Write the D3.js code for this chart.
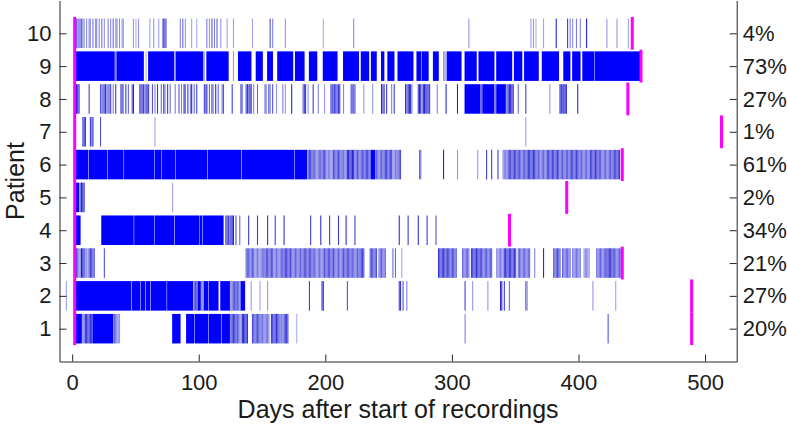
<!DOCTYPE html>
<html>
<head>
<meta charset="utf-8">
<script src="https://cdn.jsdelivr.net/npm/d3@7"></script>
<style>
  body { margin: 0; background: #fff; }
  text { font-family: "Liberation Sans", Arial, Helvetica, sans-serif; }
</style>
</head>
<body>
<div id="chart"></div>
<script>
var width = 787;
var height = 429;

// patients 1..10, percentage of days recorded (right side)
var patients = d3.range(1, 11);
var pctLabels = ['20%', '27%', '21%', '34%', '2%', '61%', '1%', '27%', '73%', '4%'];
var xTicks = [0, 100, 200, 300, 400, 500];

// start of recordings (all patients) and end day for each patient
var startDay = 2;
var endDays = [489.4, 489.4, 434.6, 345.5, 390.7, 434.6, 513, 439, 449.4, 442.5];

// recorded days: [first day, last day, fraction of day recorded]
var rec1 = [[3,7,1],[8,9,.6],[10,15,.85],[16,32,1],[33,35,.6],[36,37,.4],
  [79,85,1],[90,96,1],[97,107,1],[108,117,1],[118,124,1],[125,130,.8],[131,133,.5],[134,138,.9],
  [142,148,.7],[149,155,.55],[157,163,.8],[164,166,.5],[167,170,.8],[177,177,.3],[310,310,.5],[423,423,.7]];

var rec2 = [[-5,-5,.35],[3,46,1],[47,53,1],[54,57,1],[58,61,1],[62,74,1],[75,95,1],[96,98,.7],[99,101,1],
  [102,103,.6],[104,107,1],[108,115,1],[117,124,1],[125,127,.6],[128,130,.8],[131,132,.5],[133,136,1],
  [141,141,.4],[148,148,.35],[154,154,.4],[187,187,.8],[197,198,.85],[217,217,.7],
  [258,259,.8],[261,261,.7],[264,264,.5],[310,310,.8],[316,316,.4],[328,328,.4],[338,339,.85],[341,341,.8],
  [345,345,.6],[358,358,.7],[359,359,.5],[411,411,.4],[429,429,.35]];

var rec3 = [[3,4,.7],[5,6,.5],[7,9,.9],[10,12,.4],[13,17,.75],[25,25,.7],
  [137,143,.65],[144,150,.5],[151,158,.7],[159,165,.55],[166,172,.75],[173,181,.6],[182,190,.7],[191,198,.55],
  [199,206,.7],[207,213,.6],[214,220,.7],[221,226,.6],[227,230,.75],[235,240,.7],[242,247,.6],
  [253,253,.6],[255,255,.6],[260,260,.35],[289,296,.8],[297,303,.7],[308,313,.6],[315,322,.8],[323,331,.65],
  [335,340,.5],[341,350,.8],[352,361,.6],[365,365,.5],[372,372,.9],[380,385,.7],[387,393,.6],[395,401,.55],
  [404,408,.45],[414,421,.6],[422,427,.8],[428,433,.6]];

var rec4 = [[3,6,1],[23,48,1],[49,64,1],[65,80,1],[81,100,1],[101,102,1],[103,119,1],[121,123,.8],[124,124,.5],
  [125,127,.9],[129,129,.7],[132,132,.6],[139,139,.8],[146,146,.8],[154,154,.85],[160,160,.8],[167,167,.85],
  [188,188,.8],[196,196,.85],[203,203,.8],[210,210,.8],[216,216,.85],[223,223,.8],
  [258,258,.85],[265,265,.8],[273,273,.85],[280,280,.8],[287,287,.7]];

var rec5 = [[3,5,1],[6,6,.6],[7,9,.9],[79,79,.35]];

var rec6 = [[3,12,1],[13,27,1],[28,40,1],[41,64,1],[65,70,1],[71,81,1],[82,106,1],[107,133,1],[134,175,1],[176,185,1],
  [186,190,.75],[191,195,.55],[196,200,.7],[201,205,.5],[206,212,.7],[213,216,.55],[217,222,.9],[223,229,.65],
  [230,235,.75],[236,239,1],[240,245,.6],[246,252,.75],[253,256,.5],[257,259,.7],
  [274,275,.6],[293,293,.9],[304,304,.4],[320,320,.4],[327,327,.8],[331,331,.8],[336,336,.8],
  [340,343,.5],[344,352,.75],[353,358,.65],[359,366,.8],[367,374,.6],[375,384,.75],[385,392,.65],
  [393,400,.75],[401,408,.6],[409,416,.75],[417,424,.6],[425,428,.7],[429,432,.8]];

var rec7 = [[8,8,.7],[9,10,.9],[14,14,.8],[15,15,.5],[16,16,.9],[22,22,.7],[65,65,.35],[358,358,.35]];

var rec8 = [[3,5,.9],[13,13,.8],[22,22,.7],[23,23,.5],[24,24,.8],[25,25,.6],[26,26,.9],[27,27,.5],[28,28,.7],
  [29,29,.4],[30,30,.8],[32,32,.5],[34,34,.8],[38,38,.6],[39,39,.9],[40,40,.5],[42,42,.8],[44,44,.6],
  [47,47,.7],[48,48,.9],[53,53,.7],[54,54,.9],[55,55,.6],[56,56,.8],[57,57,.5],[58,58,.9],[59,59,.6],[60,60,.8],
  [63,63,.7],[65,65,.5],[67,67,.8],[70,70,.6],[72,72,.9],[73,73,.5],[75,75,.8],[77,77,.6],
  [81,81,.5],[84,84,.7],[86,86,.5],[88,88,.9],[89,89,.6],[91,91,.8],[93,93,.5],[94,94,.9],[96,96,.6],[98,98,.8],
  [104,104,.8],[105,105,.5],[106,106,.9],[108,108,.6],[110,110,.8],[111,111,.5],[113,113,.9],[115,115,.6],
  [118,118,.5],[119,119,.8],[126,126,.8],[133,133,.9],[134,134,.5],[137,137,.7],[138,138,.9],[139,139,.5],
  [140,141,.9],[143,143,.5],[146,146,.6],[152,152,.7],[153,153,.4],[155,155,.8],[156,156,.5],[158,158,.7],
  [161,161,.4],[166,166,.5],[168,168,.4],[173,173,.9],[182,182,.6],[183,184,.8],[186,186,.4],[190,190,.8],
  [194,194,.5],[199,199,.4],[204,204,.7],[205,205,.9],[206,206,.5],[207,208,.9],[209,209,.6],[210,211,.8],
  [214,214,.5],[220,220,.8],[221,221,.5],[222,223,.7],[230,230,.4],[237,237,.4],[244,244,.9],[245,245,.6],
  [246,246,.9],[248,248,.8],[252,252,.5],[254,254,.8],[263,263,.9],[264,264,.6],[265,267,.9],[268,268,.5],
  [273,273,.8],[274,275,.9],[276,276,.5],[277,280,.9],[281,281,.6],[282,282,.8],[288,288,.5],[295,295,.9],
  [304,304,.9],[310,322,1],[323,323,.6],[324,333,1],[334,334,.5],[335,342,1],[343,343,.6],[344,348,.9],
  [352,352,.6],[358,358,.8],[377,377,.4],[385,386,.9],[387,387,.6],[388,390,.9],[399,399,.9]];

var rec9 = [[3,33,1],[34,34,.6],[35,56,1],[58,58,.3],[60,80,1],[81,81,.6],[82,103,1],[104,104,.4],[106,123,1],
  [127,127,.4],[131,141,1],[145,150,1],[154,158,1],[162,174,1],[176,183,1],[187,193,1],[198,209,1],[214,226,1],
  [228,234,1],[236,240,1],[244,246,1],[249,254,1],[257,269,1],[272,275,1],[276,281,1],[285,289,1],
  [293,295,.4],[296,307,1],[310,319,1],[321,333,1],[335,347,1],[349,355,1],[357,368,1],[371,384,1],
  [388,393,1],[395,401,1],[403,412,1],[413,448,1]];

var rec10 = [[3,3,.6],[4,4,.45],[5,5,.7],[6,6,.5],[7,7,.6],[8,9,.45],[11,11,.45],[13,13,.5],[14,14,.4],
  [16,16,.55],[18,18,.4],[19,19,.5],[21,21,.45],[23,23,.55],[25,25,.4],[28,28,.5],[30,30,.45],[32,32,.6],
  [34,34,.4],[35,35,.5],[37,37,.45],[39,40,.4],[48,48,.4],[50,50,.3],[52,52,.4],[61,61,.35],[64,64,.4],
  [68,68,.35],[71,71,.4],[72,73,.85],[74,74,.4],[85,85,.5],[87,87,.6],[89,89,.4],[94,94,.35],[98,98,.3],
  [106,106,.5],[108,108,.4],[110,110,.7],[112,112,.5],[114,114,.6],[117,117,.4],[122,122,.35],[127,127,.35],
  [142,142,.35],[156,156,.7],[158,158,.5],[168,168,.4],[198,198,.3],[222,222,.45],[313,313,.4],
  [362,362,.35],[364,364,.4],[366,366,.3],[372,372,.35],[382,382,.9],[391,391,.8],[393,393,.5],[395,395,.45],
  [398,398,.5],[401,401,.5],[406,406,.9],[422,422,.4],[430,430,.4],[439,439,.35]];

var recordings = [rec1, rec2, rec3, rec4, rec5, rec6, rec7, rec8, rec9, rec10];

var svg = d3.select('#chart')
  .append('svg')
  .attr('width', width)
  .attr('height', height)
  .style('background', '#fff')

// scales
var x = d3.scaleLinear()
  .domain([-10, 525])
  .range([59.5, 736.7])

var y = d3.scaleLinear()
  .domain([0, 11])
  .range([361.5, 0.5])

// partial days: pale blue -> dark blue, full days pure blue
var partColor = d3.scaleLinear()
  .domain([0.3, 0.95])
  .range(['#ababec', '#1414d2'])
  .clamp(true)

var blue = '#0000ff'
var magenta = '#ff00ff'
var halfBand = 0.45

// full days are drawn as one block, partial days one bar per day (striped look)
function toBars(p) {
  var out = []
  recordings[p - 1].forEach(function (r) {
    if (r[2] >= 1) {
      out.push({ p: p, s: r[0], e: r[1], v: 1, gap: 0.45 })
    } else {
      d3.range(r[0], r[1] + 1).forEach(function (d) {
        out.push({ p: p, s: d, e: d, v: r[2], gap: 0.2 })
      })
    }
  })
  return out
}

/*
 * recorded days per patient
 */
var rows = svg.append('g')
  .selectAll('g')
  .data(patients)
  .enter()
  .append('g')

rows.selectAll('rect')
  .data(toBars)
  .enter()
  .append('rect')
  .attr('x', function (d) { return x(d.s) })
  .attr('width', function (d) { return Math.max(x(d.e + 1) - x(d.s) - d.gap, 0.9) })
  .attr('y', function (d) { return y(d.p + halfBand) })
  .attr('height', function (d) { return y(d.p - halfBand) - y(d.p + halfBand) })
  .style('fill', function (d) { return d.v >= 1 ? blue : partColor(d.v) })

// start line (all patients)
svg.append('rect')
  .attr('x', x(startDay) - 1.5)
  .attr('width', 3)
  .attr('y', y(10.5))
  .attr('height', y(0.5) - y(10.5))
  .style('fill', magenta)

// end line for each patient
svg.append('g')
  .selectAll('rect')
  .data(patients)
  .enter()
  .append('rect')
  .attr('x', function (p) { return x(endDays[p - 1]) - 1.5 })
  .attr('width', 3)
  .attr('y', function (p) { return y(p + 0.5) })
  .attr('height', function (p) { return y(p - 0.5) - y(p + 0.5) })
  .style('fill', magenta)

/*
 * axes
 */
function styleAxis(g) {
  g.selectAll('.domain').attr('stroke', '#262626')
  g.selectAll('.tick line').attr('stroke', '#262626')
  g.selectAll('.tick text')
    .attr('fill', '#1a1a1a')
    .style('font-size', '22px')
    .style('font-family', '"Liberation Sans", Arial, sans-serif')
}

svg.append('g')
  .attr('transform', 'translate(0,' + y(0) + ')')
  .call(d3.axisBottom(x).tickValues(xTicks).tickSize(-7).tickSizeOuter(0).tickPadding(13))
  .call(styleAxis)

svg.append('g')
  .attr('transform', 'translate(' + x(-10) + ',0)')
  .call(d3.axisLeft(y).tickValues(patients).tickSize(-7).tickSizeOuter(0).tickPadding(8))
  .call(styleAxis)

svg.append('g')
  .attr('transform', 'translate(' + x(525) + ',0)')
  .call(d3.axisRight(y).tickValues(patients).tickSize(-7).tickSizeOuter(0).tickPadding(6)
    .tickFormat(function (p) { return pctLabels[p - 1] }))
  .call(styleAxis)

// axis titles
svg.append('text')
  .attr('x', (x(-10) + x(525)) / 2)
  .attr('y', 418)
  .attr('text-anchor', 'middle')
  .style('font-size', '25px')
  .style('fill', '#1a1a1a')
  .text('Days after start of recordings')

svg.append('text')
  .attr('transform', 'translate(23.5,' + (y(0) + y(11)) / 2 + ') rotate(-90)')
  .attr('text-anchor', 'middle')
  .style('font-size', '25px')
  .style('fill', '#1a1a1a')
  .text('Patient')
</script>
</body>
</html>
